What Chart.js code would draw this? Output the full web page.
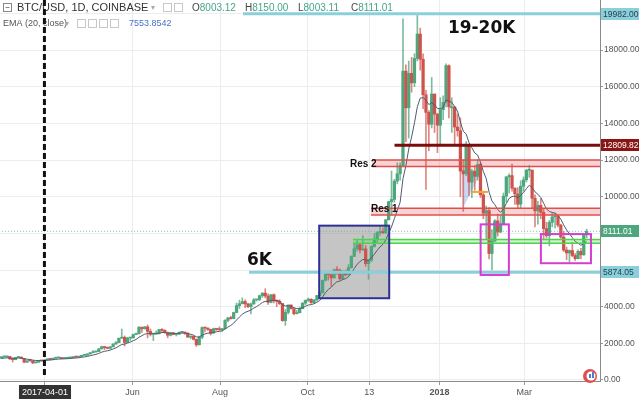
<!DOCTYPE html>
<html>
<head>
<meta charset="utf-8">
<script src="https://cdn.jsdelivr.net/npm/chart.js@4.4.1/dist/chart.umd.min.js"></script>
<style>
  html, body { margin: 0; padding: 0; background: #fff; overflow: hidden; }
  #wrap { width: 640px; height: 399px; position: relative; }
</style>
</head>
<body>
<div id="wrap"><canvas id="chart"></canvas></div>
<script>
// BTC/USD Coinbase, 2-day candles starting 2017-03-01 (day 0)
const firstCandleDay = 0.5;
const candleDays = 2;

const opens = [
  // Mar 2017
  1190,1260,1265,1280,1150,1110,1225,1245,1175,970,1045,1040,935,970,1045,1040,
  // Apr
  1090,1145,1125,1190,1205,1225,1170,1185,1205,1215,1260,1250,1280,1345,1350,
  // May
  1420,1490,1530,1550,1700,1820,1770,1730,1810,1960,2040,2280,2330,2050,2290,
  // Jun
  2300,2480,2520,2880,2790,2900,2650,2500,2510,2520,2750,2710,2580,2440,2570,
  // Jul
  2480,2500,2600,2610,2560,2340,2390,2220,1920,2330,2860,2830,2760,2560,2800,
  // Aug
  2760,2740,2800,3250,3390,3350,3680,4060,4160,4280,4150,4000,4150,4370,4390,4600,
  // Sep
  4740,4580,4240,4650,4320,4290,4170,3240,3690,4090,3890,3620,3670,3890,4190,
  // Oct
  4340,4410,4220,4370,4610,4760,5440,5810,5750,5570,6000,5980,5520,5890,5740,
  // Nov
  6130,6740,7160,7380,7100,7150,6350,6530,7280,7700,8040,8100,8030,8740,9730,
  // Dec
  9850,10850,11250,11700,16850,14850,16730,16210,17540,18870,17500,15560,14600,13950,15600,14500,
  // Jan 2018
  13900,14750,15150,17150,14900,14900,13800,13600,11400,11250,12780,10800,11380,11110,11760,
  // Feb
  10100,9100,9240,6900,7580,8680,8070,8500,10030,11080,11150,10460,10150,9590,10570,
  // Mar
  10920,11440,11450,9910,9230,9530,9150,8260,7870,8600,8900,8920,8450,7790,7090,
  // Apr
  6930,7060,6790,6620,7020,6830,7920
];

const highs = [
  1280,1295,1290,1285,1210,1235,1255,1260,1180,1060,1125,1050,990,1060,1055,1100,
  1150,1160,1200,1215,1235,1230,1195,1210,1230,1270,1270,1290,1350,1360,1430,
  1500,1600,1580,1720,1850,1840,1800,1830,1980,2100,2290,2780,2400,2330,2320,
  2500,2560,2920,2890,2920,3000,2780,2530,2680,2770,2800,2740,2620,2600,2590,
  2520,2630,2640,2620,2570,2410,2400,2230,2390,2900,2880,2850,2770,2830,2810,
  2900,2820,3290,3410,3480,3700,4200,4350,4480,4370,4180,4200,4450,4400,4630,4760,
  4980,4700,4670,4700,4380,4380,4180,3850,4100,4100,3900,3800,3980,4230,4370,
  4470,4430,4390,4620,4880,5450,5850,5830,5770,6070,6190,6060,5970,6000,6300,
  6780,7450,7600,7440,7880,7340,6560,7330,7990,8100,8380,8300,8760,9750,11400,
  10950,11850,11850,19700,17200,17400,17600,17800,19890,19200,17800,15800,14700,16500,15600,14550,
  15400,15500,17250,17200,15400,14900,14500,14300,12000,13000,12800,11500,11700,12000,11850,
  10300,9500,9400,8200,8750,9050,8980,10200,11100,11250,11780,10500,10500,10870,11080,
  11500,11700,11450,10100,9750,9900,9350,8600,8700,9100,9100,9000,8500,8100,7250,
  7100,7500,6900,7100,7180,8000,8230
];

const lows = [
  1180,1230,1250,1120,980,1100,1220,1160,950,960,1030,890,920,960,1020,1035,
  1080,1110,1120,1170,1200,1160,1165,1175,1200,1210,1235,1245,1275,1320,1340,
  1410,1480,1520,1540,1690,1650,1700,1690,1800,1950,2030,2270,1850,2040,2150,
  2290,2470,2510,2600,2780,2300,2400,2150,2500,2510,2610,2550,2300,2400,2470,
  2400,2490,2580,2480,2320,2250,2180,1830,1910,2260,2620,2700,2450,2550,2700,
  2700,2660,2780,3170,3320,3340,3670,3900,4150,3950,3950,3600,4130,4300,4330,4500,
  4480,4120,4200,4200,4000,4100,3200,2980,3600,3860,3550,3600,3660,3880,4100,
  4280,4180,4200,4310,4600,4740,5400,5450,5110,5560,5760,5450,5500,5680,5720,
  6100,6730,7030,6930,7060,6200,5500,6450,7250,7510,7890,8000,8000,8730,9000,
  9700,10700,10900,11700,13000,13200,15700,16000,17400,16900,14800,10400,12500,13750,13500,12400,
  12800,14200,14900,14300,13500,12800,13300,10000,9200,11150,10050,9950,10350,10900,9950,
  8800,7700,6600,6000,7550,7850,8050,8500,9700,10200,10300,9580,9350,9400,10300,
  10800,11050,9400,8350,8500,8800,7700,7750,7320,8350,8300,8350,7730,7000,6560,
  6430,6720,6520,6600,6620,6800,7760
];

const closes = [
  1260,1265,1280,1150,1110,1225,1245,1175,970,1045,1040,935,970,1045,1040,1090,
  1145,1125,1190,1205,1225,1170,1185,1205,1215,1260,1250,1280,1345,1350,1420,
  1490,1530,1550,1700,1820,1770,1730,1810,1960,2040,2280,2330,2050,2290,2300,
  2480,2520,2880,2790,2900,2650,2500,2510,2520,2750,2710,2580,2440,2570,2480,
  2500,2600,2610,2560,2340,2390,2220,1920,2330,2860,2830,2760,2560,2800,2760,
  2740,2800,3250,3390,3350,3680,4060,4160,4280,4150,4000,4150,4370,4390,4600,4740,
  4580,4240,4650,4320,4290,4170,3240,3690,4090,3890,3620,3670,3890,4190,4340,
  4410,4220,4370,4610,4760,5440,5810,5750,5570,6000,5980,5520,5890,5740,6130,
  6740,7160,7380,7100,7150,6350,6530,7280,7700,8040,8100,8030,8740,9730,9850,
  10850,11250,11700,16850,14850,16730,16210,17540,18870,17500,15560,14600,13950,15600,14500,13900,
  14750,15150,17150,14900,14900,13800,13600,11400,11250,12780,10800,11380,11110,11760,10100,
  9100,9240,6900,7580,8680,8070,8500,10030,11080,11150,10460,10150,9590,10570,10920,
  11440,11450,9910,9230,9530,9150,8260,7870,8600,8900,8920,8450,7790,7090,6930,
  7060,6790,6620,7020,6830,7920,8111.01
];

// EMA (20, close)
const emaValues = [
  1178,1194,1210,1199,1183,1191,1201,1196,1155,1135,1118,1085,1064,1061,1057,1063,
  1078,1086,1105,1123,1142,1147,1154,1163,1172,1188,1199,1214,1238,1258,1287,
  1324,1361,1395,1450,1517,1563,1593,1632,1692,1755,1850,1937,1957,2018,2069,
  2143,2211,2332,2415,2503,2530,2524,2522,2521,2562,2589,2588,2561,2563,2548,
  2539,2550,2561,2561,2521,2497,2447,2352,2348,2441,2511,2556,2557,2601,2630,
  2650,2677,2781,2891,2974,3102,3275,3435,3588,3690,3746,3819,3919,4004,4112,4226,
  4290,4281,4348,4343,4333,4304,4111,4035,4045,4017,3945,3895,3894,3948,4019,
  4090,4113,4160,4241,4335,4535,4766,4944,5057,5228,5364,5392,5482,5529,5638,
  5837,6077,6313,6455,6581,6539,6537,6672,6858,7072,7258,7398,7641,8019,8350,
  8803,9246,9690,10986,11685,12598,13252,14028,14904,15374,15408,15262,15024,15128,15015,14813,
  14802,14865,15279,15210,15154,14909,14672,14080,13568,13425,12950,12666,12384,12271,11878,
  11375,10989,10249,9766,9569,9298,9154,9313,9633,9907,10007,10033,9953,10065,10220,
  10441,10624,10494,10266,10133,9955,9648,9326,9195,9142,9102,8984,8768,8464,8186,
  7982,7766,7559,7461,7347,7451,7554
];

// axis ticks (days counted from 2017-03-01)
const tickDays = [31, 92, 153, 214, 257, 306, 365];
const tickLabels = ['2017-04-01', 'Jun', 'Aug', 'Oct', '13', '2018', 'Mar'];
const priceTicks = [0, 2000, 4000, 6000, 8000, 10000, 12000, 14000, 16000, 18000, 20000];

// drawn levels and zones
const topLevel = 19982.00;
const redLevel = 12809.82;
const lastPrice = 8111.01;
const supportLevel = 5874.05;
const res2Band = [11640, 12000];
const res1Band = [9000, 9370];
const greenBand = [7460, 7670];
const grayBoxDays = [222.1, 270.9];
const grayBoxPrices = [4460, 8420];
const pinkBox1Days = [334.6, 354.3];
const pinkBox1Prices = [5730, 8490];
const pinkBox2Days = [376.6, 411.5];
const pinkBox2Prices = [6370, 7960];
const crosshairDay = 30.6;

const GREEN = '#4ea67c';
const RED = '#cf524c';

const candleX = opens.map((_, i) => firstCandleDay + i * candleDays);
const candleColors = opens.map((o, i) => (closes[i] >= o ? GREEN : RED));
const wickColors = opens.map((o, i) => (closes[i] >= o ? 'rgba(78,166,124,0.75)' : 'rgba(207,82,76,0.7)'));

const wickData = candleX.map((x, i) => ({ x: x, y: [lows[i], highs[i]] }));
const bodyData = candleX.map((x, i) => ({ x: x, y: [opens[i], closes[i]] }));
const emaData = candleX.map((x, i) => ({ x: x, y: emaValues[i] }));

const drawings = {
  id: "drawings",
  beforeDatasetsDraw(chart) {
    const { ctx, chartArea: a, scales } = chart;
    const px = (v) => scales.x.getPixelForValue(v);
    const py = (v) => scales.y.getPixelForValue(v);
    ctx.save();
    ctx.beginPath();
    ctx.rect(a.left, a.top, a.right - a.left, a.bottom - a.top);
    ctx.clip();

    // grey zone
    ctx.fillStyle = "rgba(150,150,150,0.55)";
    ctx.fillRect(px(grayBoxDays[0]), py(grayBoxPrices[1]),
      px(grayBoxDays[1]) - px(grayBoxDays[0]), py(grayBoxPrices[0]) - py(grayBoxPrices[1]));

    // band fills
    const band = (start, vals, color) => {
      ctx.fillStyle = color;
      ctx.fillRect(px(start), py(vals[1]), a.right - px(start), py(vals[0]) - py(vals[1]));
    };
    band(259, res2Band, "rgba(235,110,110,0.3)");
    band(258.2, res1Band, "rgba(235,110,110,0.3)");
    band(245.6, greenBand, "rgba(110,220,110,0.35)");

    // light blue triangle
    ctx.fillStyle = "rgba(110,140,220,0.35)";
    ctx.beginPath();
    ctx.moveTo(px(321.6), py(11510));
    ctx.lineTo(px(335.5), py(11420));
    ctx.lineTo(px(322.3), py(9380));
    ctx.closePath();
    ctx.fill();
    ctx.restore();
  },
  afterDraw(chart) {
    const { ctx, chartArea: a, scales } = chart;
    const px = (v) => scales.x.getPixelForValue(v);
    const py = (v) => scales.y.getPixelForValue(v);
    ctx.save();

    const hline = (start, v, color, w, dash) => {
      ctx.strokeStyle = color;
      ctx.lineWidth = w;
      ctx.setLineDash(dash || []);
      ctx.beginPath();
      ctx.moveTo(px(start), py(v));
      ctx.lineTo(a.right, py(v));
      ctx.stroke();
      ctx.setLineDash([]);
    };

    // last price dotted line
    hline(-1, lastPrice, "rgba(90,170,160,0.75)", 1, [1, 2]);

    // band borders
    hline(259, res2Band[0], "#e04e4e", 1.5);
    hline(259, res2Band[1], "#e04e4e", 1.5);
    hline(258.2, res1Band[0], "#e04e4e", 1.5);
    hline(258.2, res1Band[1], "#e04e4e", 1.5);
    hline(245.6, greenBand[0], "#4cd24c", 1.5);
    hline(245.6, greenBand[1], "#4cd24c", 1.5);

    // levels
    hline(169, topLevel, "#8ccfdc", 3);
    hline(173.2, supportLevel, "#8ccfdc", 3);
    hline(274.6, redLevel, "#7a0c0c", 3);

    // orange segment
    ctx.strokeStyle = "#f4a62a";
    ctx.lineWidth = 2;
    ctx.beginPath();
    ctx.moveTo(px(328.5), py(10260));
    ctx.lineTo(px(339.7), py(10260));
    ctx.stroke();

    // boxes
    const box = (days, prices, color) => {
      ctx.strokeStyle = color;
      ctx.lineWidth = 2;
      ctx.strokeRect(px(days[0]), py(prices[1]), px(days[1]) - px(days[0]), py(prices[0]) - py(prices[1]));
    };
    box(grayBoxDays, grayBoxPrices, "#2e3192");
    box(pinkBox1Days, pinkBox1Prices, "#d23fd2");
    box(pinkBox2Days, pinkBox2Prices, "#d23fd2");

    // labels on the chart
    ctx.fillStyle = "#111";
    ctx.textBaseline = "middle";
    ctx.font = 'bold 17px "DejaVu Sans", sans-serif';
    ctx.fillText("19-20K", px(311.8), py(19145));
    ctx.fillText("6K", px(171.8), py(6518));
    ctx.font = 'bold 10px "Liberation Sans", Arial, sans-serif';
    ctx.fillText("Res 2", px(243.5), py(11782));
    ctx.fillText("Res 1", px(258.2), py(9327));

    // header
    ctx.textBaseline = "middle";
    ctx.strokeStyle = "#888";
    ctx.lineWidth = 1;
    ctx.strokeRect(3.5, 3.5, 8, 8);
    ctx.beginPath();
    ctx.moveTo(5.5, 7.5);
    ctx.lineTo(9.5, 7.5);
    ctx.stroke();
    ctx.font = '11px "Liberation Sans", Arial, sans-serif';
    ctx.fillStyle = "#333";
    ctx.fillText("BTC/USD, 1D, COINBASE", 17, 8);
    ctx.fillStyle = "#aaa";
    ctx.font = '8px "Liberation Sans", Arial, sans-serif';
    ctx.fillText("\u25BE", 151, 8);
    ctx.strokeStyle = "#c8c8c8";
    [163, 174].forEach((x0) => ctx.strokeRect(x0 + 0.5, 3.5, 8, 8));

    const ohlc = [["O", "8003.12"], ["H", "8150.00"], ["L", "8003.11"], ["C", "8111.01"]];
    ctx.font = '10px "Liberation Sans", Arial, sans-serif';
    let hx = 192;
    ohlc.forEach(([k, v]) => {
      ctx.fillStyle = "#444";
      ctx.fillText(k, hx, 8);
      const kw = ctx.measureText(k).width;
      ctx.fillStyle = "#45a58c";
      ctx.fillText(v, hx + kw, 8);
      hx += 53;
    });

    ctx.font = '9px "Liberation Sans", Arial, sans-serif';
    ctx.fillStyle = "#555";
    ctx.fillText("EMA (20, close)", 3, 24);
    ctx.fillStyle = "#aaa";
    ctx.font = '8px "Liberation Sans", Arial, sans-serif';
    ctx.fillText("\u25BE", 65, 24);
    ctx.strokeStyle = "#c8c8c8";
    [77, 88, 99, 110].forEach((x0) => ctx.strokeRect(x0 + 0.5, 19.5, 8, 8));
    ctx.font = '9px "Liberation Sans", Arial, sans-serif';
    ctx.fillStyle = "#4a6fc4";
    ctx.fillText("7553.8542", 129, 24);

    // dashed crosshair
    ctx.strokeStyle = "#111";
    ctx.lineWidth = 3;
    ctx.setLineDash([6, 3]);
    ctx.beginPath();
    ctx.moveTo(px(crosshairDay), a.top);
    ctx.lineTo(px(crosshairDay), a.bottom - 4);
    ctx.stroke();
    ctx.setLineDash([]);

    // price labels on the axis
    const tag = (v, bg, fg) => {
      const yy = Math.round(py(v));
      ctx.fillStyle = bg;
      ctx.fillRect(a.right + 1, yy - 6, 38, 12);
      ctx.fillStyle = fg;
      ctx.font = '8.5px "Liberation Sans", Arial, sans-serif';
      ctx.fillText(v.toFixed(2), a.right + 3, yy + 0.5);
    };
    tag(topLevel, "#8ccfdc", "#1f3d44");
    tag(redLevel, "#8b1515", "#fff");
    tag(lastPrice, "#4ea67c", "#fff");
    tag(supportLevel, "#8ccfdc", "#1f3d44");

    // logo
    ctx.fillStyle = "#e04f4f";
    ctx.beginPath();
    ctx.arc(590, 376, 7, 0, Math.PI * 2);
    ctx.fill();
    ctx.fillStyle = "#fff";
    ctx.beginPath();
    ctx.arc(591, 376, 4.5, 0, Math.PI * 2);
    ctx.fill();
    ctx.fillStyle = "#4a7fd0";
    ctx.fillRect(589, 374, 2, 4);
    ctx.fillRect(592, 372, 2, 6);

    ctx.restore();
  },
};

Chart.defaults.font.family = '"Liberation Sans", Arial, sans-serif';

new Chart(document.getElementById("chart"), {
  type: "bar",
  data: {
    datasets: [
      {
        type: "line",
        label: "EMA",
        data: emaData,
        borderColor: "#525a70",
        borderWidth: 1,
        pointRadius: 0,
        tension: 0,
        order: 0,
      },
      {
        label: "bodies",
        data: bodyData,
        backgroundColor: candleColors,
        barThickness: 2.6,
        minBarLength: 1,
        grouped: false,
        order: 1,
      },
      {
        label: "wicks",
        data: wickData,
        backgroundColor: wickColors,
        barThickness: 1,
        grouped: false,
        order: 2,
      },
    ],
  },
  options: {
    responsive: true,
    maintainAspectRatio: false,
    animation: false,
    events: [],
    layout: { padding: 0 },
    plugins: { legend: { display: false }, tooltip: { enabled: false } },
    scales: {
      x: {
        type: "linear",
        min: -0.36,
        max: 417.8,
        offset: false,
        grid: { offset: false, color: "#ececec", tickColor: "#999", tickLength: 4 },
        border: { color: "#8a8a8a" },
        afterBuildTicks: (s) => {
          s.ticks = tickDays.map((v) => ({ value: v }));
        },
        afterFit: (s) => {
          s.height = 18;
          s.paddingLeft = 0;
          s.paddingRight = 0;
        },
        ticks: {
          autoSkip: false,
          maxRotation: 0,
          padding: 2,
          font: (c) => ({ size: 9, weight: c.index === 5 ? "bold" : "normal" }),
          color: (c) => (c.index === 0 ? "#fff" : "#555"),
          showLabelBackdrop: true,
          backdropColor: (c) => (c.index === 0 ? "#333" : "rgba(0,0,0,0)"),
          backdropPadding: { x: 3, y: 2 },
          callback: (v, i) => tickLabels[i],
        },
      },
      y: {
        type: "linear",
        position: "right",
        min: -55,
        max: 20730,
        grid: { color: "#ececec", tickColor: "#999", tickLength: 3 },
        border: { color: "#8a8a8a" },
        afterBuildTicks: (s) => {
          s.ticks = priceTicks.map((v) => ({ value: v }));
        },
        afterFit: (s) => {
          s.width = 40;
          s.paddingTop = 0;
          s.paddingBottom = 0;
        },
        ticks: {
          padding: 1,
          font: { size: 8.5 },
          color: "#555",
          callback: (v) => v.toFixed(2),
        },
      },
    },
  },
  plugins: [drawings],
});
</script>
</body>
</html>
